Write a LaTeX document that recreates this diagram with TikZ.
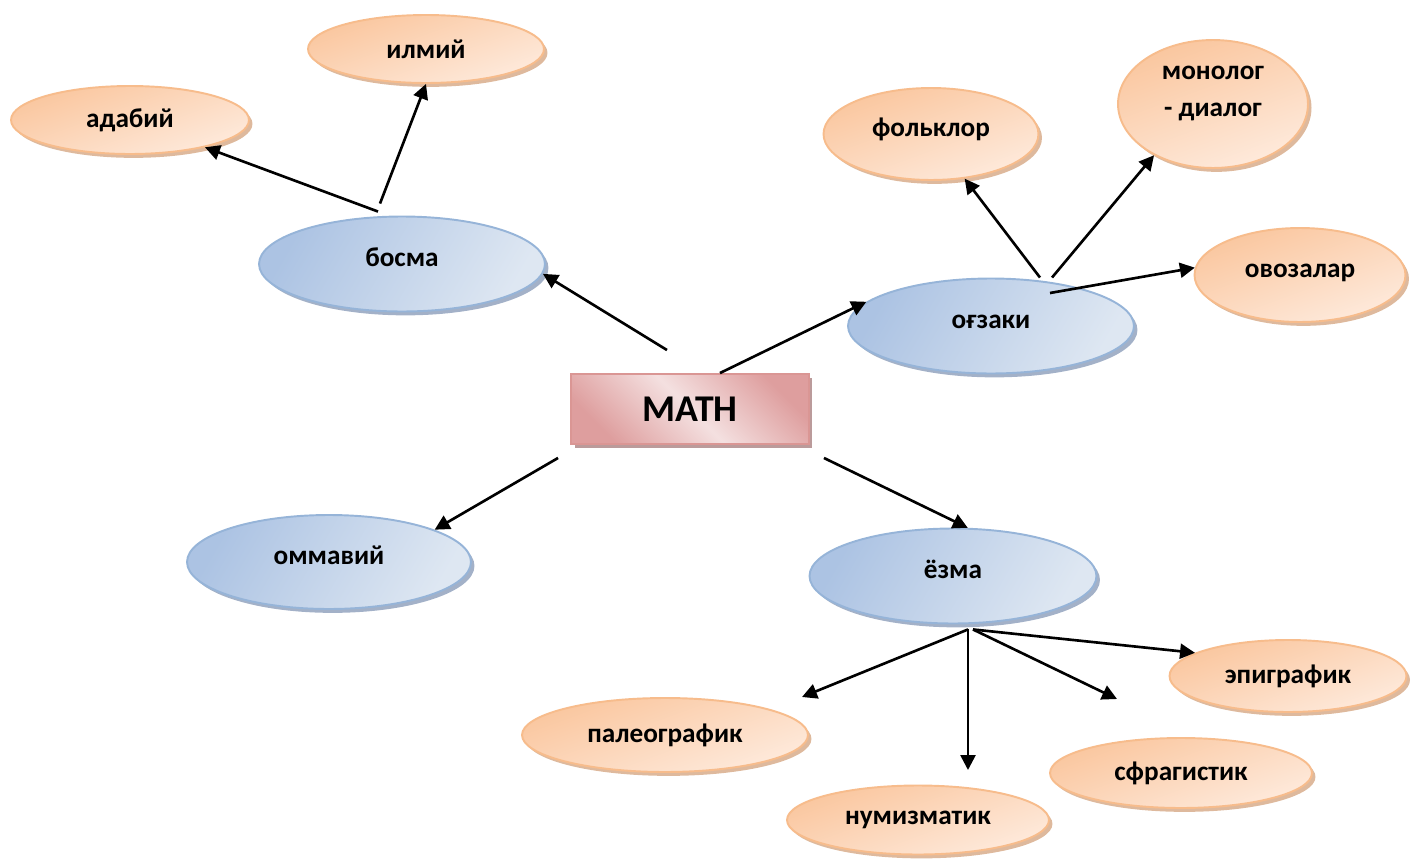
\documentclass[tikz,border=0pt]{standalone}
\usepackage{fontspec}
\setmainfont{Carlito}
\usetikzlibrary{arrows.meta,shadows,shapes.geometric,calc}
\definecolor{orangeline}{RGB}{247,188,140}
\definecolor{orangedark}{RGB}{250,198,158}
\definecolor{orangelight}{RGB}{254,234,220}
\definecolor{orangeshadow}{RGB}{214,168,132}
\definecolor{blueline}{RGB}{150,180,216}
\definecolor{bluedark}{RGB}{172,195,227}
\definecolor{bluelight}{RGB}{222,231,242}
\definecolor{blueshadow}{RGB}{140,158,186}
\definecolor{pinkline}{RGB}{218,150,148}
\definecolor{pinkdark}{RGB}{222,158,158}
\definecolor{pinklight}{RGB}{244,224,224}
\definecolor{pinkshadow}{RGB}{170,130,130}

\begin{document}
\begin{tikzpicture}[x=0.02cm, y=-0.02cm,
      arr/.style={-{Triangle[length=8.5pt,width=8.5pt]}, line width=1.5pt, black},
      oell/.style={ellipse, draw=orangeline, line width=1.1pt, inner sep=0pt,
                   top color=orangedark, bottom color=orangelight, shading angle=20,
                   drop shadow={shadow xshift=2pt, shadow yshift=-2.2pt, fill=orangeshadow, opacity=0.8},
                   font=\fontsize{15.5}{21}\selectfont\bfseries},
      bell/.style={ellipse, draw=blueline, line width=1.1pt, inner sep=0pt,
                   left color=bluedark, right color=bluelight, shading angle=60,
                   drop shadow={shadow xshift=2pt, shadow yshift=-2.2pt, fill=blueshadow, opacity=0.8},
                   font=\fontsize{15.5}{21}\selectfont\bfseries},
      raised/.style={text height=11pt, text depth=8pt},
      mathbox/.style={rectangle, draw=pinkline, line width=1.1pt, inner sep=0pt,
                   left color=pinkdark, right color=pinkdark, middle color=pinklight, shading angle=135,
                   drop shadow={shadow xshift=2pt, shadow yshift=-2.2pt, fill=pinkshadow, opacity=0.8},
                   font=\fontsize{21.5}{26}\selectfont\bfseries}
    ]
    \useasboundingbox (0,0) rectangle (1411,859);

    % centre
    \node[mathbox, minimum width=4.76cm, minimum height=1.40cm] (math) at (690,409) {MATH};

    % top left branch
    \node[bell, raised, minimum width=5.72cm, minimum height=1.90cm] (bosma) at (402,264) {босма};
    \node[oell, minimum width=4.72cm, minimum height=1.36cm] (ilmiy) at (426,49) {илмий};
    \node[oell, minimum width=4.76cm, minimum height=1.36cm] (adabiy) at (130,120) {адабий};

    % top right branch
    \node[bell, raised, minimum width=5.72cm, minimum height=1.90cm] (ogzaki) at (991,326) {оғзаки};
    \node[oell, raised, minimum width=4.30cm, minimum height=1.84cm] (folklor) at (931,134) {фольклор};
    \node[oell, minimum width=3.80cm, minimum height=2.56cm] (monolog) at (1213,104)
      {\raisebox{0.14cm}[0pt][0pt]{\begin{tabular}{@{}c@{}}монолог\\- диалог\end{tabular}}};
    \node[oell, raised, minimum width=4.22cm, minimum height=1.88cm] (ovozalar) at (1300,275) {овозалар};

    % bottom left
    \node[bell, raised, minimum width=5.68cm, minimum height=1.88cm] (ommaviy) at (329,562) {оммавий};

    % bottom right branch
    \node[bell, raised, minimum width=5.74cm, minimum height=1.90cm] (yozma) at (953,576) {ёзма};
    \node[oell, minimum width=4.74cm, minimum height=1.44cm] (epigrafik) at (1288,676) {эпиграфик};
    \node[oell, minimum width=5.72cm, minimum height=1.48cm] (paleografik) at (665,735) {палеографик};
    \node[oell, minimum width=5.24cm, minimum height=1.40cm] (sfragistik) at (1181,773) {сфрагистик};
    \node[oell, minimum width=5.24cm, minimum height=1.38cm] (numizmatik) at (918,820) {нумизматик};

    \coordinate (paleotip) at (802,697);
    \coordinate (numiztip) at (968,770);
    \coordinate (sfragtip) at (1117,699);

    \draw[arr] ([shift={(-23,-23)}]math.north) -- (bosma.-4);
    \draw[arr] ([shift={(-24,-4)}]bosma.north) -- (adabiy.-20);
    \draw[arr] ([shift={(-22,-12)}]bosma.north) -- (ilmiy.south);
    \draw[arr] ([shift={(30,0)}]math.north) -- (ogzaki.169);
    \draw[arr] ([shift={(49,0)}]ogzaki.north) -- (folklor.-53);
    \draw[arr] ([shift={(61,0)}]ogzaki.north) -- (monolog.-139);
    \draw[arr] ([shift={(59,-33)}]ogzaki.center) -- (ovozalar.176);
    \draw[arr] ([shift={(-12,13)}]math.south west) -- (ommaviy.17);
    \draw[arr] ([shift={(14,13)}]math.south east) -- (yozma.73);
    \draw[arr] ([shift={(15,5)}]yozma.south) -- (paleotip);
    \draw[arr] ([shift={(15,5)}]yozma.south) -- (numiztip);
    \draw[arr] ([shift={(20,5)}]yozma.south) -- (sfragtip);
    \draw[arr] ([shift={(20,5)}]yozma.south) -- (epigrafik.166);
  \end{tikzpicture}
\end{document}
